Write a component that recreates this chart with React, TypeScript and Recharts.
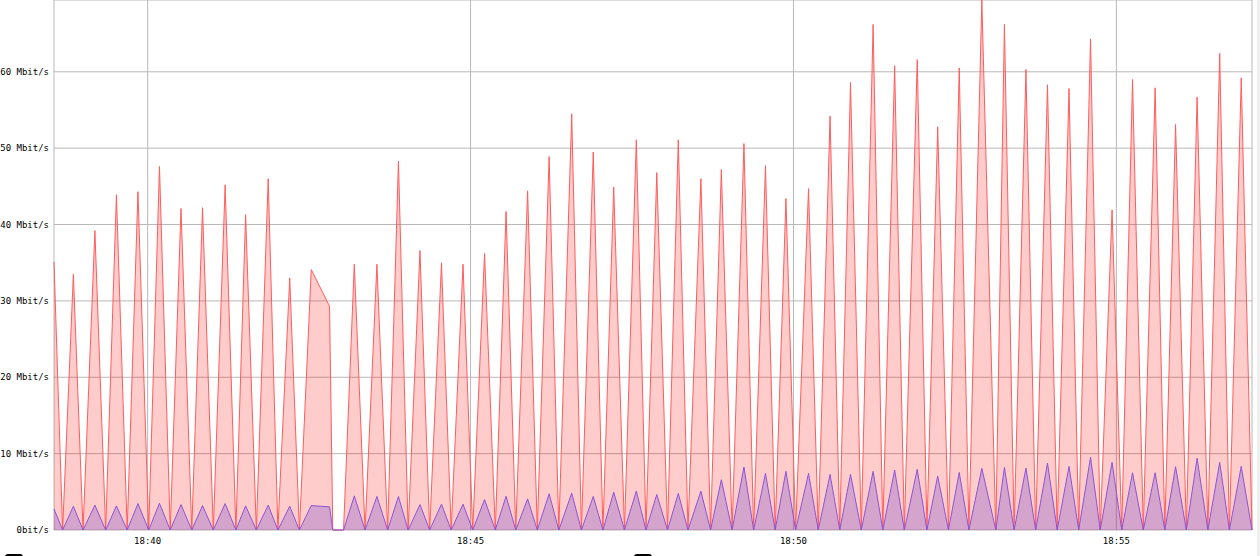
import React from 'react';
import { AreaChart, Area, XAxis, YAxis, CartesianGrid } from 'recharts';

// ─── Data ─────────────────────────────────────────────────────────────────────

const times = [
  '18:38:33', '18:38:41', '18:38:51', '18:39:00', '18:39:11', '18:39:21', '18:39:31', '18:39:41',
  '18:39:51', '18:40:01', '18:40:11', '18:40:21', '18:40:31', '18:40:41', '18:40:51', '18:41:01',
  '18:41:12', '18:41:22', '18:41:31', '18:41:41', '18:41:52', '18:42:01', '18:42:12', '18:42:21',
  '18:42:32', '18:42:49', '18:42:52', '18:43:02', '18:43:12', '18:43:22', '18:43:33', '18:43:43',
  '18:43:53', '18:44:02', '18:44:13', '18:44:22', '18:44:33', '18:44:42', '18:44:53', '18:45:02',
  '18:45:13', '18:45:23', '18:45:33', '18:45:42', '18:45:53', '18:46:02', '18:46:13', '18:46:22',
  '18:46:34', '18:46:43', '18:46:54', '18:47:03', '18:47:13', '18:47:23', '18:47:34', '18:47:43',
  '18:47:53', '18:48:03', '18:48:13', '18:48:22', '18:48:34', '18:48:43', '18:48:53', '18:49:03',
  '18:49:14', '18:49:23', '18:49:34', '18:49:43', '18:49:53', '18:50:02', '18:50:14', '18:50:23',
  '18:50:34', '18:50:43', '18:50:53', '18:51:03', '18:51:14', '18:51:23', '18:51:34', '18:51:43',
  '18:51:55', '18:52:04', '18:52:14', '18:52:24', '18:52:34', '18:52:43', '18:52:55', '18:53:08',
  '18:53:16', '18:53:25', '18:53:36', '18:53:45', '18:53:56', '18:54:05', '18:54:16', '18:54:25',
  '18:54:36', '18:54:45', '18:54:56', '18:55:05', '18:55:15', '18:55:25', '18:55:36', '18:55:45',
  '18:55:55', '18:56:05', '18:56:15', '18:56:25', '18:56:36', '18:56:45', '18:56:56', '18:57:06',
];

// Mbit/s
const inbound = [
  35.1, 0, 33.5, 0, 39.2, 0, 43.9, 0,
  44.3, 0, 47.6, 0, 42.1, 0, 42.2, 0,
  45.2, 0, 41.3, 0, 46.0, 0, 33.0, 0,
  34.1, 29.3, 0, 0, 34.8, 0, 34.8, 0,
  48.3, 0, 36.6, 0, 35.0, 0, 34.8, 0,
  36.2, 0, 41.7, 0, 44.4, 0, 48.9, 0,
  54.5, 0, 49.5, 0, 44.9, 0, 51.1, 0,
  46.8, 0, 51.1, 0, 46.0, 0, 47.2, 0,
  50.6, 0, 47.7, 0, 43.4, 0, 44.7, 0,
  54.2, 0, 58.6, 0, 66.2, 0, 60.8, 0,
  61.6, 0, 52.8, 0, 60.5, 0, 69.4, 0,
  66.2, 0, 60.3, 0, 58.3, 0, 57.8, 0,
  64.3, 0, 41.9, 0, 59.0, 0, 57.9, 0,
  53.1, 0, 56.7, 0, 62.4, 0, 59.2, 0,
];

const outbound = [
  2.76, 0, 3.11, 0, 3.25, 0, 3.16, 0,
  3.46, 0, 3.5, 0, 3.33, 0, 3.2, 0,
  3.46, 0, 3.16, 0, 3.25, 0, 3.11, 0,
  3.2, 3.03, 0, 0, 4.47, 0, 4.39, 0,
  4.39, 0, 3.33, 0, 3.38, 0, 3.38, 0,
  3.99, 0, 4.43, 0, 4.08, 0, 4.74, 0,
  4.82, 0, 4.39, 0, 4.96, 0, 5.09, 0,
  4.65, 0, 4.78, 0, 5.09, 0, 6.58, 0,
  8.25, 0, 7.41, 0, 7.68, 0, 7.41, 0,
  7.28, 0, 7.28, 0, 7.68, 0, 7.85, 0,
  7.94, 0, 7.06, 0, 7.54, 0, 8.07, 0,
  8.2, 0, 8.11, 0, 8.77, 0, 8.33, 0,
  9.52, 0, 8.86, 0, 7.5, 0, 7.5, 0,
  8.29, 0, 9.39, 0, 8.86, 0, 8.33, 0,
];

const xTickLabels = ['18:40', '18:45', '18:50', '18:55'];
const yTicks = [0, 10, 20, 30, 40, 50, 60];
const yTopLabel = '70 Mbit/s'; // sits just above the plot, mostly clipped

// ─── Helpers ──────────────────────────────────────────────────────────────────

const toSeconds = (s: string) => {
  const [h, m, sec] = s.split(':').map(Number);
  return h * 3600 + m * 60 + (sec ?? 0);
};

const pad = (n: number) => String(n).padStart(2, '0');
const fmtTime = (v: number) => `${pad(Math.floor(v / 3600))}:${pad(Math.floor((v % 3600) / 60))}`;
const fmtRate = (v: number) => (v === 0 ? '0bit/s' : `${v} Mbit/s`);

const data = times.map((t, i) => ({ t: toSeconds(t), inbound: inbound[i], outbound: outbound[i] }));
const xTicks = xTickLabels.map(toSeconds);

const FONT = '"DejaVu Sans Mono", monospace';

// single-line tick so the labels never wrap
const YTick = ({ x, y, payload }: any) => (
  <text x={x} y={y} dy="0.355em" textAnchor="end" fontSize={9} fontFamily={FONT} fill="#000">
    {fmtRate(payload.value)}
  </text>
);

const XTick = ({ x, y, payload }: any) => (
  <text x={x} y={y} dy="0.71em" textAnchor="middle" fontSize={9} fontFamily={FONT} fill="#000">
    {fmtTime(payload.value)}
  </text>
);

export default function App() {
  return (
    <div style={{ position: 'absolute', top: 0, left: 0, width: 1260, height: 556, overflow: 'hidden', background: '#fff' }}>
      <AreaChart width={1260} height={556} data={data} margin={{ top: 0, right: 8, bottom: 6, left: 0 }}>
        <CartesianGrid stroke="#b8b8b8" strokeWidth={1} />
        <XAxis
          dataKey="t"
          type="number"
          domain={['dataMin', 'dataMax']}
          ticks={xTicks}
          tick={<XTick />}
          axisLine={false}
          tickLine={false}
          height={20}
        />
        <YAxis
          type="number"
          domain={[0, 'dataMax']}
          ticks={yTicks}
          tick={<YTick />}
          axisLine={false}
          tickLine={false}
          tickSize={5}
          tickMargin={0}
          width={54}
        />
        <Area
          type="linear"
          dataKey="inbound"
          stroke="#ff5c5c"
          strokeWidth={1}
          fill="#ff0000"
          fillOpacity={0.2}
          dot={false}
          activeDot={false}
          isAnimationActive={false}
        />
        <Area
          type="linear"
          dataKey="outbound"
          stroke="#8a55d8"
          strokeWidth={1}
          fill="#7048cc"
          fillOpacity={0.3}
          dot={false}
          activeDot={false}
          isAnimationActive={false}
        />
      </AreaChart>
      <div
        style={{
          position: 'absolute', right: 1211, top: -10, fontSize: 9, lineHeight: '12px',
          fontFamily: FONT, whiteSpace: 'nowrap', color: '#000',
        }}
      >
        {yTopLabel}
      </div>
      {/* legend swatches, mostly below the fold */}
      <div style={{ position: 'absolute', left: 5, top: 554, width: 14, height: 12, border: '2px solid #000', borderRadius: 3, background: '#0000ff' }} />
      <div style={{ position: 'absolute', left: 634, top: 554, width: 14, height: 12, border: '2px solid #000', borderRadius: 3, background: '#ff0000' }} />
      {/* scrollbar strip on the right */}
      <div style={{ position: 'absolute', left: 1257, top: 0, width: 3, height: 556, background: '#efefef' }} />
    </div>
  );
}
